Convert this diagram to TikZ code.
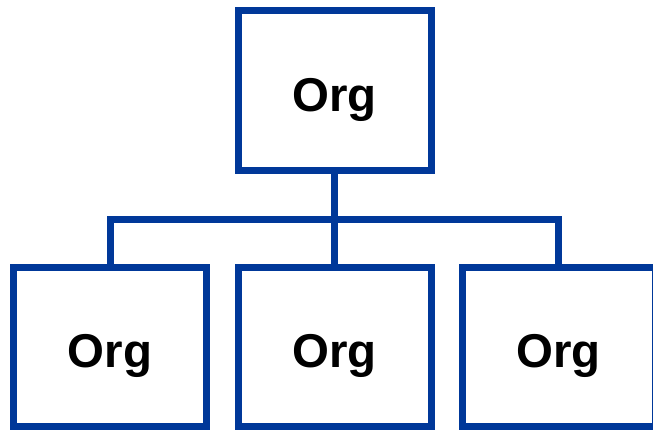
\documentclass[tikz,border=0pt]{standalone}
\usepackage{fontspec}
\setmainfont{Liberation Sans}
\usetikzlibrary{positioning}
\definecolor{orgblue}{RGB}{0,56,153}

\begin{document}
\begin{tikzpicture}[
    orgbox/.style={draw=orgblue, line width=0.14cm, minimum width=3.86cm, minimum height=3.2cm, inner sep=0pt, text height=0.84cm, text depth=0pt, font=\fontsize{27}{30}\selectfont\bfseries},
    conn/.style={draw=orgblue, line width=0.14cm}]
    \useasboundingbox (0,0) rectangle (13.06,-8.58);
    \node[orgbox] (top) at (6.69,-1.815) {Org};
    \node[orgbox, minimum height=3.18cm] (left) at (2.2,-6.93) {Org};
    \node[orgbox, minimum height=3.18cm] (mid) at (6.69,-6.93) {Org};
    \node[orgbox, minimum height=3.18cm] (right) at (11.17,-6.93) {Org};
    \coordinate (bus) at (6.69,-4.38);
    \draw[conn] (top.south) -- (mid.north);
    \draw[conn] (left.north) |- (bus) -| (right.north);
\end{tikzpicture}
\end{document}
